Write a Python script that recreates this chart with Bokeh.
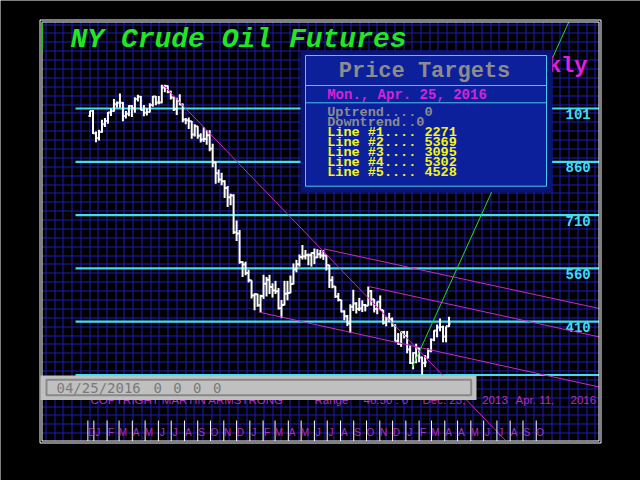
import pandas as pd
from bokeh.core.properties import value
from bokeh.embed import file_html
from bokeh.models import BoxAnnotation, ColumnDataSource, Label, Range1d
from bokeh.plotting import figure
from bokeh.resources import INLINE

W, H = 640, 480

# ---- weekly NY crude oil bars (week starting Monday) ----
FIRST_WEEK = "2013-12-23"
OPEN = [98.9, 100.3, 94.0, 92.7, 94.4, 96.6, 97.5, 99.9, 100.3, 102.2,
        102.6, 102.6, 98.9, 99.5, 101.7, 101.1, 103.7, 104.3, 100.6, 99.8,
        100.0, 102.0, 104.4, 102.7, 102.7, 106.9, 107.3, 105.7, 104.1, 100.8,
        103.1, 102.1, 97.9, 97.7, 97.4, 93.7, 96.0, 93.3, 92.3, 92.4,
        93.5, 89.7, 85.8, 82.8, 81.0, 80.5, 78.6, 76.0, 76.5, 66.2,
        65.8, 57.8, 57.1, 54.7, 52.7, 48.4, 48.7, 45.6, 48.2, 51.7,
        52.8, 50.8, 49.8, 49.6, 44.8, 45.7, 48.9, 49.1, 51.6, 55.7,
        57.2, 59.2, 59.4, 59.7, 59.7, 60.3, 59.1, 60.0, 59.6, 59.6,
        56.9, 52.7, 50.9, 48.1, 47.1, 43.9, 42.5, 40.5, 45.2, 46.1,
        44.6, 44.7, 45.7, 45.5, 49.6, 47.3, 44.6, 46.6, 44.3, 40.7,
        41.9, 41.7, 40.0, 35.6, 34.7, 38.1, 37.0, 33.2, 29.4, 32.2,
        33.6, 30.9, 29.4, 31.0, 32.8, 35.9, 38.5, 39.4, 39.5, 36.8,
        39.7]
HIGH = [100.4, 100.6, 94.5, 95.0, 97.8, 98.3, 100.0, 101.0, 103.7, 103.0,
        105.2, 102.8, 100.3, 101.9, 102.0, 104.2, 104.9, 104.5, 102.0, 101.1,
        102.5, 104.5, 104.5, 104.5, 107.7, 107.7, 107.5, 106.0, 104.3, 104.0,
        105.0, 102.4, 98.3, 98.5, 97.5, 96.6, 96.0, 94.0, 95.7, 94.9,
        94.9, 91.1, 86.0, 83.8, 82.9, 80.8, 79.2, 77.0, 76.9, 69.5,
        66.8, 58.0, 57.9, 55.6, 52.7, 49.0, 48.9, 48.6, 54.2, 53.6,
        54.2, 51.8, 52.5, 50.5, 47.1, 52.5, 52.5, 54.0, 57.4, 58.4,
        59.9, 62.6, 61.2, 60.2, 60.5, 61.6, 61.4, 61.2, 61.2, 59.7,
        57.0, 53.8, 51.0, 49.1, 47.2, 44.2, 42.9, 45.9, 50.0, 46.5,
        47.7, 47.0, 46.0, 50.9, 49.9, 47.3, 46.7, 48.4, 44.3, 42.4,
        43.5, 42.2, 40.3, 37.8, 38.1, 38.4, 38.4, 34.5, 32.4, 34.8,
        33.7, 31.2, 31.6, 33.5, 36.3, 38.6, 40.2, 41.9, 39.9, 39.7,
        42.4]
LOW = [98.6, 93.8, 91.5, 92.0, 94.2, 95.8, 96.7, 98.9, 100.1, 101.2,
       101.2, 97.4, 98.2, 98.8, 98.6, 99.8, 103.0, 100.5, 98.8, 99.0,
       99.9, 101.5, 101.9, 102.2, 102.5, 105.6, 105.3, 103.5, 100.3, 99.2,
       101.9, 97.1, 96.6, 95.2, 92.5, 93.1, 92.5, 91.4, 91.6, 90.8,
       89.0, 84.5, 79.8, 80.1, 79.4, 75.8, 73.3, 73.8, 65.7, 63.7,
       57.3, 53.6, 54.1, 52.0, 47.5, 44.2, 45.2, 43.6, 47.4, 48.1,
       48.8, 47.8, 48.8, 44.4, 42.0, 45.6, 47.0, 49.0, 51.5, 54.9,
       56.5, 58.5, 58.5, 56.9, 56.5, 57.2, 58.9, 58.8, 58.4, 55.4,
       50.5, 50.4, 47.7, 46.7, 43.6, 41.4, 39.8, 37.8, 44.0, 43.3,
       44.0, 43.7, 43.9, 45.5, 45.5, 43.6, 43.1, 44.2, 40.2, 39.7,
       40.9, 39.6, 35.4, 34.5, 33.9, 36.3, 32.1, 29.1, 27.6, 29.3,
       29.6, 26.1, 28.2, 30.6, 32.4, 35.5, 36.6, 38.3, 35.2, 35.2,
       39.5]
CLOSE = [100.3, 94.0, 92.7, 94.4, 96.6, 97.5, 99.9, 100.3, 102.2, 102.6,
         102.6, 98.9, 99.5, 101.7, 101.1, 103.7, 104.3, 100.6, 99.8, 100.0,
         102.0, 104.4, 102.7, 102.7, 106.9, 107.3, 105.7, 104.1, 100.8, 103.1,
         102.1, 97.9, 97.7, 97.4, 93.7, 96.0, 93.3, 92.3, 92.4, 93.5,
         89.7, 85.8, 82.8, 81.0, 80.5, 78.6, 76.0, 76.5, 66.2, 65.8,
         57.8, 57.1, 54.7, 52.7, 48.4, 48.7, 45.6, 48.2, 51.7, 52.8,
         50.8, 49.8, 49.6, 44.8, 45.7, 48.9, 49.1, 51.6, 55.7, 57.2,
         59.2, 59.4, 59.7, 59.7, 60.3, 59.1, 60.0, 59.6, 59.6, 56.9,
         52.7, 50.9, 48.1, 47.1, 43.9, 42.5, 40.5, 45.2, 46.1, 44.6,
         44.7, 45.7, 45.5, 49.6, 47.3, 44.6, 46.6, 44.3, 40.7, 41.9,
         41.7, 40.0, 35.6, 34.7, 38.1, 37.0, 33.2, 29.4, 32.2, 33.6,
         30.9, 29.4, 29.6, 32.8, 35.9, 38.5, 39.4, 39.5, 36.8, 39.7,
         40.4]

# ---- price target levels and their tags ----
LEVELS = [101, 86, 71, 56, 41, 26]
LEVEL_TAGS = ["101", "860", "710", "560", "410"]

# ---- trend lines: (start date, start price, end date, end price) ----
DOWN_LINES = [
    ("2014-06-13", 107.5, "2016-08-21", 7.6),
    ("2015-06-23", 61.5, "2017-03-29", 44.7),
    ("2015-10-06", 50.9, "2017-03-29", 36.7),
    ("2015-01-22", 43.7, "2017-03-29", 22.6),
]
UP_LINE = ("2016-01-16", 28.2, "2017-01-16", 125.3)

# ---- month letters along the time axis ----
MONTH_LETTERS = ["D",
                 "J", "F", "M", "A", "M", "J", "J", "A", "S", "O", "N", "D",
                 "J", "F", "M", "A", "M", "J", "J", "A", "S", "O", "N", "D",
                 "J", "F", "M", "A", "A", "M", "J", "J", "A", "S", "O"]
MONTH_TICKS = ["2013-12-18"] + [d.strftime("%Y-%m-%d") for d in
                                pd.date_range("2014-01-01", "2016-11-01", freq="MS")]

# ---- price target panel ----
PANEL_TITLE = "Price Targets"
PANEL_DATE = "Mon., Apr. 25, 2016"
PANEL_ROWS = ["Uptrend.... 0", "Downtrend..0"]
TARGET_LINES = ["Line #1.... 2271", "Line #2.... 5369", "Line #3.... 3095",
                "Line #4.... 5302", "Line #5.... 4528"]
STATUS_DATE = "04/25/2016"
STATUS_VALUES = ["0", "0", "0", "0"]

# ---- canvas geometry (pixels from top-left) ----
X0, XS = 89.5, 2.992          # pixel of first week, pixels per week
REF_PRICE, REF_PY, YS = 101.0, 108.0, 53.3 / 15.0


def wk(d):
    return (pd.Timestamp(d) - pd.Timestamp(FIRST_WEEK)).days / 7.0


def px2w(px):
    return (px - X0) / XS


def py2p(py):
    return REF_PRICE - (py - REF_PY) / YS


p = figure(width=W, height=H, output_backend="svg", toolbar_location=None,
           x_range=Range1d(px2w(0), px2w(W)), y_range=Range1d(py2p(H), py2p(0)),
           x_axis_type=None, y_axis_type=None, min_border=0)
p.outline_line_color = None
p.background_fill_color = "black"
p.border_fill_color = "black"

BLACK = "black"
GRID = "#1c1cb4"
CYAN = "#40dcf0"
WHITE = "white"
TREND = "#c42cc4"
UPTREND = "#2ad82a"
TEXT_PURPLE = "#b030c8"

FL, FR, FT, FB = 41.5, 598.5, 21.5, 440.5   # inner frame

# background grid, snapped to whole pixels
gx = []
k = 0
while 45 + 8.72 * k < FR:
    gx.append(px2w(round(45 + 8.72 * k) + 0.5))
    k += 1
p.segment(x0=gx, y0=[py2p(FT)] * len(gx), x1=gx, y1=[py2p(FB)] * len(gx),
          line_color=GRID, line_width=1)
gy = []
k = 0
while REF_PY - 4.44 - YS * 2.5 * k > FT:
    k += 1
k -= 1
while True:
    py = REF_PY - 4.44 - YS * 2.5 * k
    if py >= FB:
        break
    gy.append(py2p(round(py) + 0.5))
    k -= 1
p.segment(x0=[px2w(FL)] * len(gy), y0=gy, x1=[px2w(FR)] * len(gy), y1=gy,
          line_color=GRID, line_width=1)

# price target levels
p.segment(x0=[px2w(75)] * len(LEVELS), y0=LEVELS, x1=[px2w(FR)] * len(LEVELS),
          y1=LEVELS, line_color=CYAN, line_width=2.2)
p.text(x=[px2w(565)] * len(LEVEL_TAGS), y=[l - 1.6 for l in LEVELS[:len(LEVEL_TAGS)]],
       text=LEVEL_TAGS, text_color=CYAN, text_font=value("Liberation Mono"),
       text_font_size=value("14px"), text_font_style="bold",
       text_baseline="middle", text_align="left")

# weekly OHLC bars
idx = [wk(d) for d in pd.date_range(FIRST_WEEK, periods=len(CLOSE), freq="7D")]
src = ColumnDataSource(dict(x=idx, xl=[v - 0.5 for v in idx], xr=[v + 0.5 for v in idx],
                            o=OPEN, h=HIGH, l=LOW, c=CLOSE))
p.segment(x0="x", y0="l", x1="x", y1="h", source=src, line_color=WHITE, line_width=2)
p.segment(x0="xl", y0="o", x1="x", y1="o", source=src, line_color=WHITE, line_width=2)
p.segment(x0="x", y0="c", x1="xr", y1="c", source=src, line_color=WHITE, line_width=2)

# trend lines
p.segment(x0=[wk(a) for a, _, _, _ in DOWN_LINES], y0=[b for _, b, _, _ in DOWN_LINES],
          x1=[wk(c) for _, _, c, _ in DOWN_LINES], y1=[d for _, _, _, d in DOWN_LINES],
          line_color=TREND, line_width=1)
p.segment(x0=[wk(UP_LINE[0])], y0=[UP_LINE[1]], x1=[wk(UP_LINE[2])], y1=[UP_LINE[3]],
          line_color=UPTREND, line_width=1)

# month ticks and letters
tick_x = [wk(d) for d in MONTH_TICKS]
p.segment(x0=tick_x, y0=[py2p(420)] * len(tick_x), x1=tick_x, y1=[py2p(FB)] * len(tick_x),
          line_color=WHITE, line_width=1)
p.text(x=[t + 9 / 7.0 for t in tick_x], y=[py2p(432)] * len(tick_x), text=MONTH_LETTERS,
       text_color=TEXT_PURPLE, text_font=value("Liberation Sans"),
       text_font_size=value("10px"), text_baseline="middle", text_align="center")

# footer line (partly under the status bar)
footer = [("COPYRIGHT MARTIN ARMSTRONG", 90), ("Range", 314), ("46.50 : 0", 363),
          ("Dec. 23,", 422), ("2013", 481.7), ("Apr. 11,", 515), ("2016", 570)]
p.text(x=[px2w(xx) for _, xx in footer], y=[py2p(399.5)] * len(footer),
       text=[t for t, _ in footer], text_color=TEXT_PURPLE,
       text_font=value("Liberation Sans"), text_font_size=value("11.5px"),
       text_baseline="middle", text_align="left")

# weekly tag (mostly hidden by the panel)
p.text(x=[px2w(587)], y=[py2p(66)], text=["Weekly"], text_color="#e020e0",
       text_font=value("Liberation Mono"), text_font_size=value("22px"),
       text_font_style="bold", text_baseline="middle", text_align="right")


def box(l, r, t, b, fill=None, line=None, lw=1):
    p.add_layout(BoxAnnotation(
        left=l, right=r, top=H - t, bottom=H - b,
        left_units="screen", right_units="screen", top_units="screen", bottom_units="screen",
        fill_color=fill if fill else BLACK, fill_alpha=1 if fill else 0,
        line_color=line if line else BLACK, line_alpha=1 if line else 0, line_width=lw))


def label(text, x, y, size, color, font="Liberation Mono", style="bold", align="left"):
    p.add_layout(Label(x=x, y=H - y, x_units="screen", y_units="screen", text=text,
                       text_font=font, text_font_size=size, text_color=color,
                       text_font_style=style, text_align=align, text_baseline="middle"))


# double frame
box(39.5, 600.5, 19.5, 442.5, line=WHITE)
box(FL, FR, FT, FB, line=WHITE)
box(41, 42.5, 22, 50, fill="#20c020")

# title
label("NY Crude Oil Futures", 70, 38.5, "28px", "#22e622", style="bold italic")

# price target panel
box(300, 551.7, 50, 191.7, fill="#081476")
box(305, 546, 55, 185.7, fill="#0c209c", line="#48c8f0")
box(305, 546, 85, 102.3, line="#48c8f0")
label(PANEL_TITLE, 424, 71, "22px", "#8c8c8c", align="center")
label(PANEL_DATE, 326.7, 94.3, "14px", "#d424d4")
rows = [(t, "#8c8c8c") for t in PANEL_ROWS] + [(t, "#f4f41c") for t in TARGET_LINES]
for k, (t, col) in enumerate(rows):
    label(t, 326.7, 111.7 + 10 * k, "13.5px", col)

# status bar
box(40, 476, 375, 399.5, fill="#c0c0c0")
box(46, 470.7, 379.3, 394.7, line="#888888", lw=2)
label(STATUS_DATE, 56, 387, "14px", "#7a7a7a", font="DejaVu Sans Mono", style="normal")
for k, v in enumerate(STATUS_VALUES):
    label(v, 153 + 19.8 * k, 387, "14px", "#7a7a7a", font="DejaVu Sans Mono", style="normal")

open("out.html", "w").write(file_html(p, INLINE))
